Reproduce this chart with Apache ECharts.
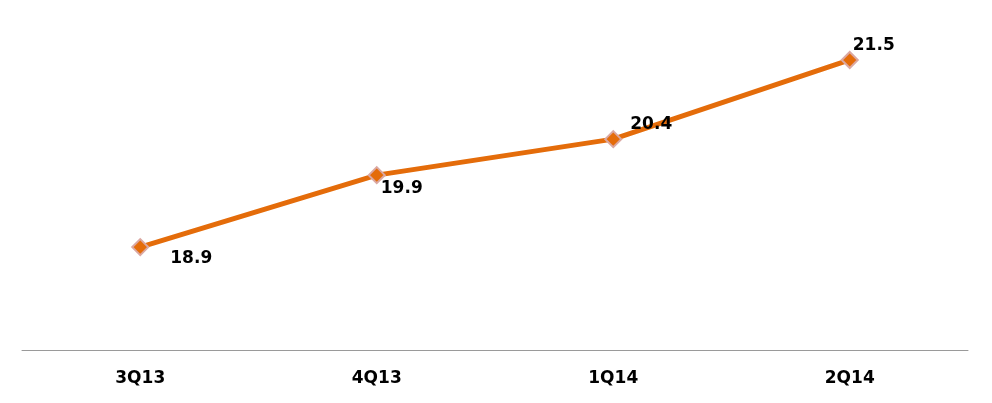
<!DOCTYPE html>
<html>
<head>
<meta charset="utf-8">
<script src="https://cdn.jsdelivr.net/npm/echarts@6/dist/echarts.min.js"></script>
<style>
  html, body { margin: 0; padding: 0; background: #fff; }
  #chart { width: 992px; height: 403px; }
</style>
</head>
<body>
<div id="chart"></div>
<script>
// quarters and values
const quarters = ['3Q13', '4Q13', '1Q14', '2Q14'];
const values = [18.9, 19.9, 20.4, 21.5];
// where each value label sits relative to its marker
const labelOffsets = [[51, 11], [25, 13], [38, -15], [24, -14]];

const chart = echarts.init(document.getElementById('chart'));

const seriesData = values.map((v, i) => ({
  value: v,
  label: { offset: labelOffsets[i] }
}));

const option = {
  animation: false,
  grid: {
    left: 22,
    right: 24,
    top: 24,
    bottom: 53,
    containLabel: false
  },
  xAxis: {
    type: 'category',
    data: quarters,
    boundaryGap: true,
    axisLine: { show: true, lineStyle: { color: '#9a9a9a', width: 1 } },
    axisTick: { show: false },
    axisLabel: {
      color: '#000',
      fontFamily: 'DejaVu Sans',
      fontWeight: 'bold',
      fontSize: 17,
      margin: 20
    }
  },
  yAxis: {
    type: 'value',
    min: 17.47,
    max: 22,
    show: false,
    splitLine: { show: false }
  },
  series: [{
    type: 'line',
    data: seriesData,
    symbol: 'diamond',
    symbolSize: 16,
    lineStyle: { color: '#E46C0A', width: 5 },
    itemStyle: { color: '#E46C0A', borderColor: '#DBA8A2', borderWidth: 2 },
    label: {
      show: true,
      position: 'inside',
      color: '#000',
      fontFamily: 'DejaVu Sans',
      fontWeight: 'bold',
      fontSize: 17
    }
  }]
};

chart.setOption(option);
</script>
</body>
</html>
